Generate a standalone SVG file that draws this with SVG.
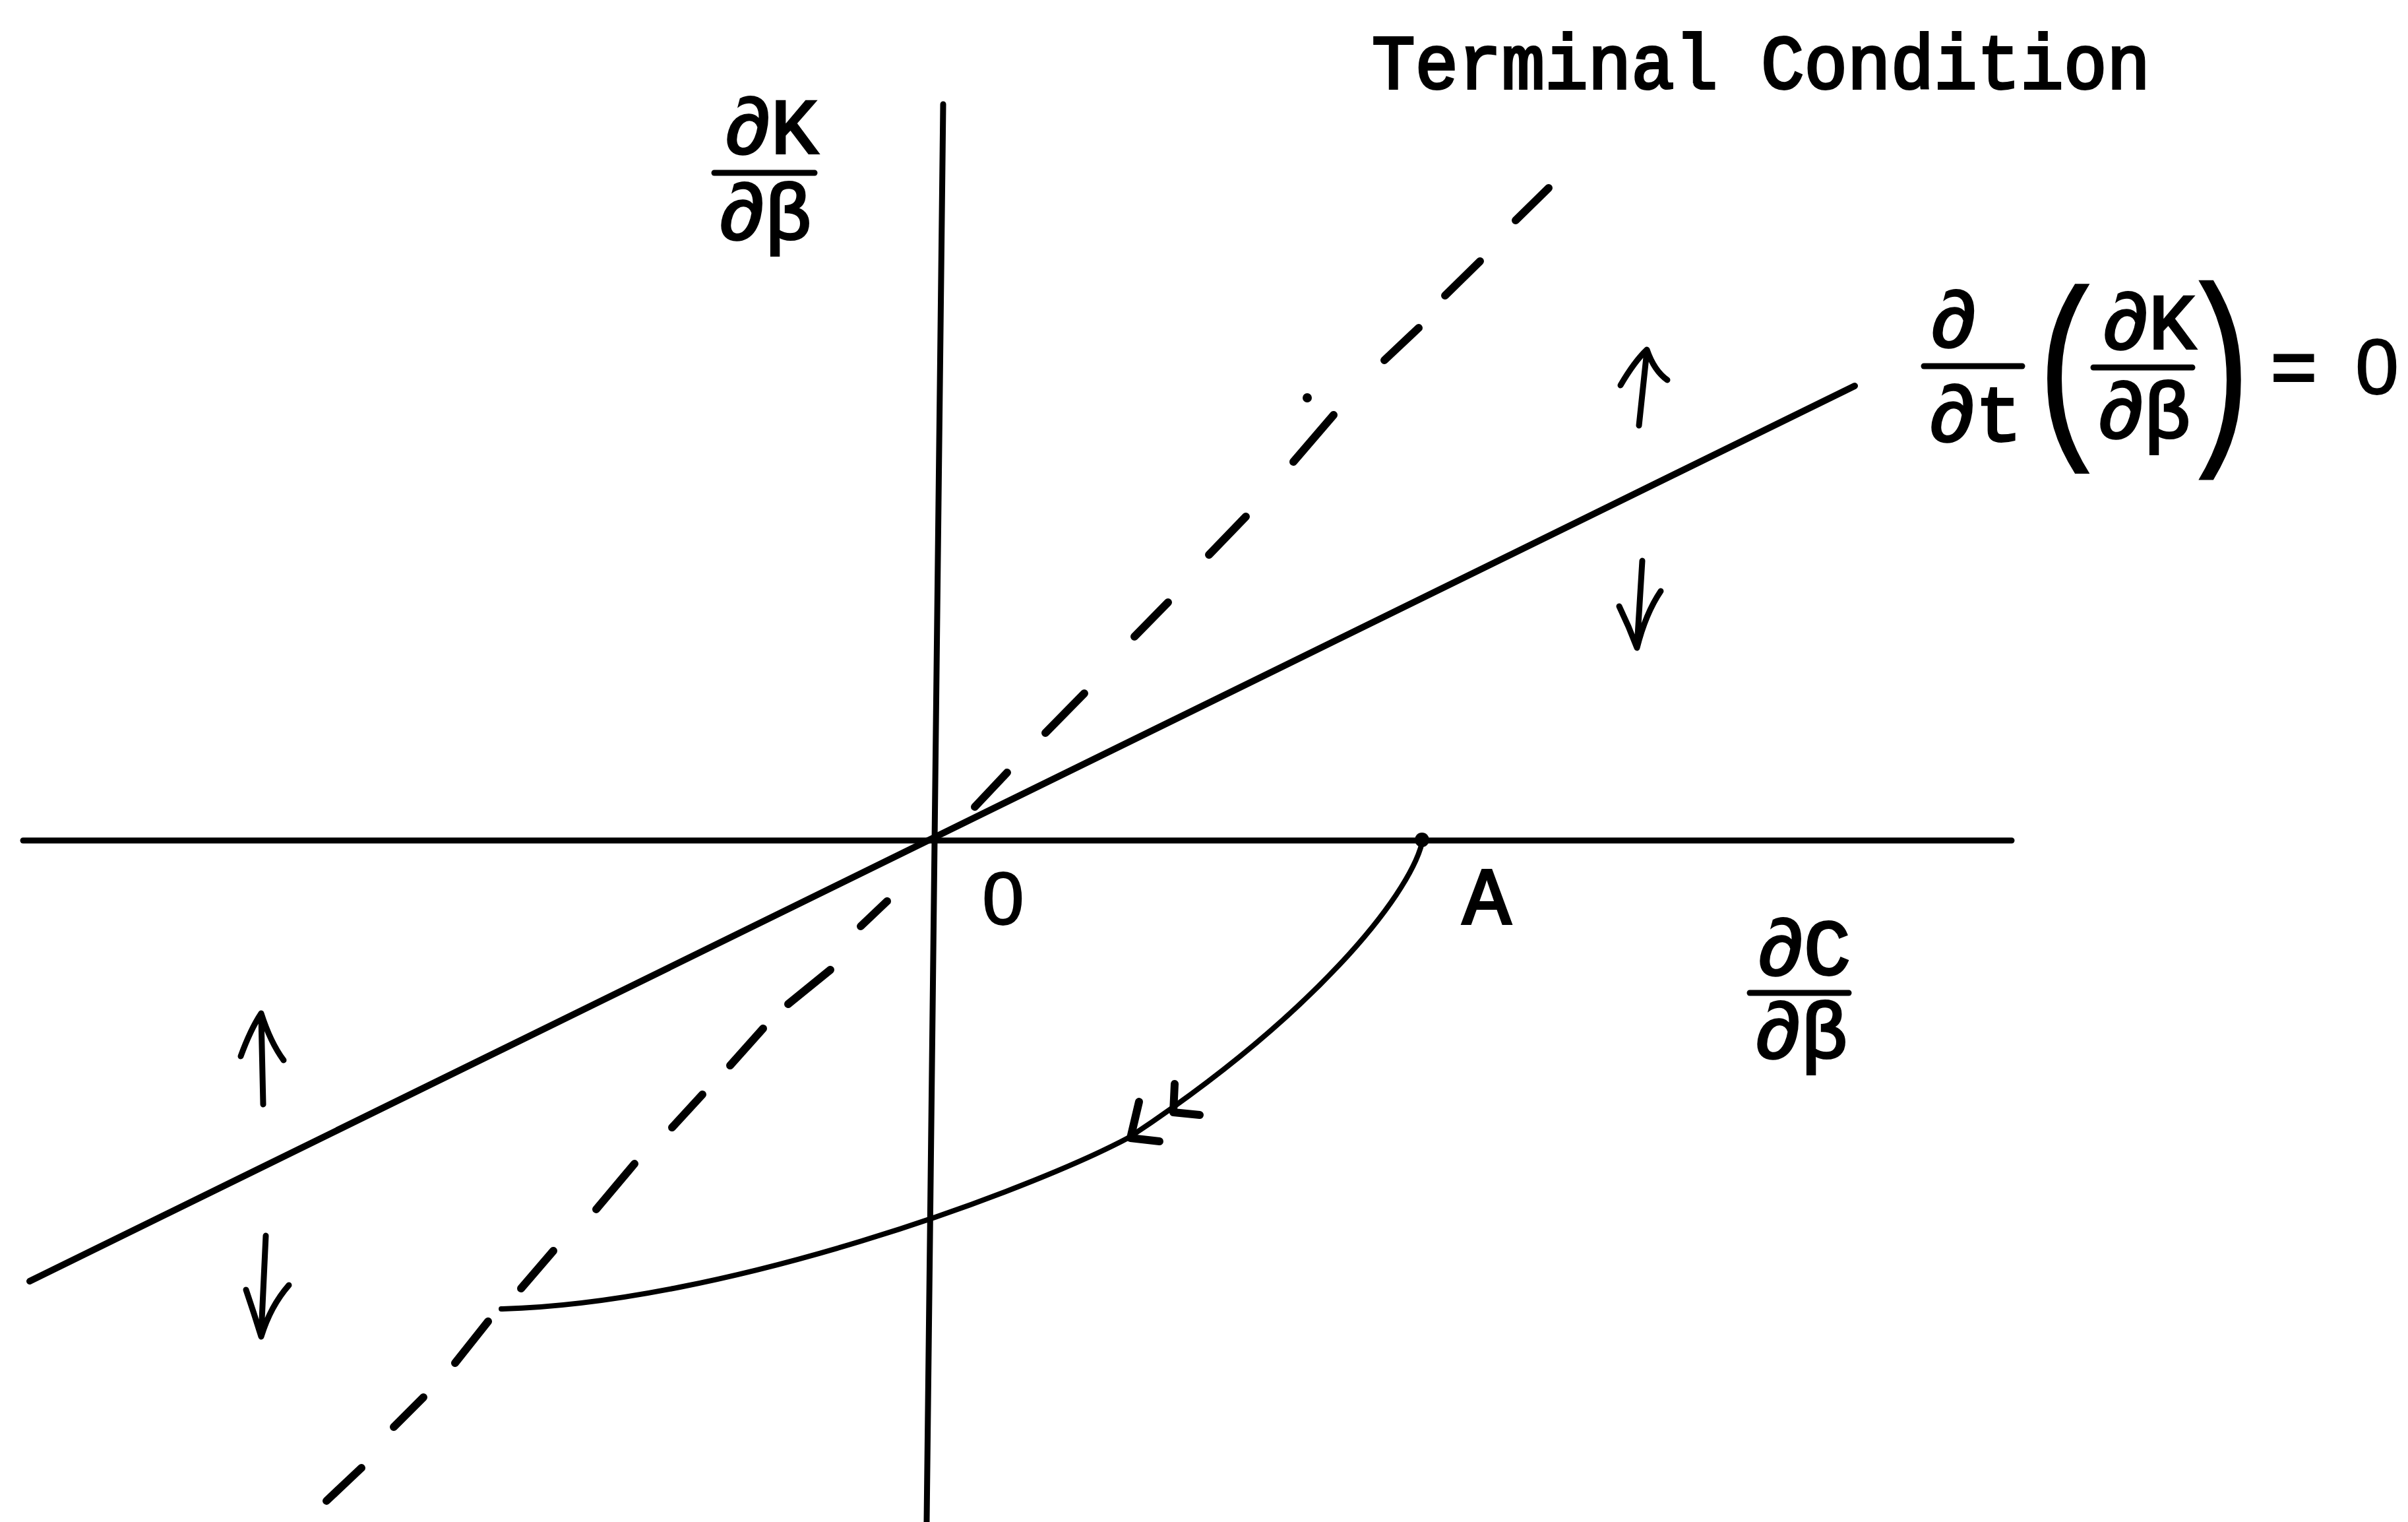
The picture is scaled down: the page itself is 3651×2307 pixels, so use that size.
<svg xmlns="http://www.w3.org/2000/svg" width="3651" height="2307" viewBox="0 0 3651 2307">
<style>
.ln{stroke:#000;fill:none;stroke-linecap:round;stroke-linejoin:round}
.ax{stroke-width:9}
.sol{stroke-width:10}
.dash{stroke-width:12}
.cv{stroke-width:8}
.arw{stroke-width:9}
.bar{stroke:#000;stroke-width:9;stroke-linecap:round}
.t{font-family:"Liberation Mono","DejaVu Sans Mono",monospace;fill:#000;stroke:#000;stroke-width:4;font-weight:normal}
.d{font-family:"Liberation Sans",Arial,sans-serif;fill:#000;stroke:#000;stroke-width:2;font-weight:normal}
.p{font-family:"Liberation Mono","DejaVu Sans Mono",monospace;fill:#000;font-weight:normal;font-size:160px}
.tc{text-anchor:middle}
</style>
<rect width="3651" height="2307" fill="#fff"/>
<g id="axes">
<line class="ln ax" x1="35" y1="1274" x2="3050" y2="1274"/>
<line class="ln ax" x1="1430" y1="158" x2="1405" y2="2307"/>
</g>
<g id="connectors">
<line id="locus" class="ln sol" x1="45" y1="1942" x2="2812" y2="585"/>
<g id="dashed" class="ln dash">
<line x1="2298" y1="334" x2="2348" y2="285"/>
<line x1="2191" y1="448" x2="2244" y2="396"/>
<line x1="2099" y1="546" x2="2151" y2="497"/>
<line x1="1961" y1="700" x2="2022" y2="629"/>
<line x1="1833" y1="841" x2="1889" y2="783"/>
<line x1="1720" y1="965" x2="1771" y2="913"/>
<line x1="1585" y1="1111" x2="1644" y2="1051"/>
<line x1="1478" y1="1223" x2="1527" y2="1171"/>
<line x1="1305" y1="1404" x2="1345" y2="1366"/>
<line x1="1195" y1="1522" x2="1259" y2="1470"/>
<line x1="1107" y1="1615" x2="1157" y2="1559"/>
<line x1="1019" y1="1709" x2="1065" y2="1659"/>
<line x1="904" y1="1833" x2="962" y2="1764"/>
<line x1="790" y1="1953" x2="839" y2="1896"/>
<line x1="690" y1="2066" x2="740" y2="2003"/>
<line x1="597" y1="2163" x2="642" y2="2118"/>
<line x1="495" y1="2275" x2="548" y2="2225"/>
</g>
<circle cx="1982" cy="603" r="7" fill="#000"/>
<path id="path" class="ln cv" d="M2156 1278 C2135 1360 1990 1540 1712 1724 C1560 1805 1100 1975 760 1984"/>
<path class="ln arw" style="stroke-width:12" d="M1781 1643 L1779 1686 L1819 1690"/>
<path class="ln arw" style="stroke-width:12" d="M1727 1670 L1714 1725 L1758 1730"/>
<circle cx="2156" cy="1273" r="11" fill="#000"/>
<g id="direction-arrows" class="ln arw">
<path d="M2485 645 L2497 532 M2457 584 Q2478 548 2497 530 Q2508 562 2528 576"/>
<path d="M2490 850 L2482 980 M2455 919 Q2470 950 2482 982 Q2495 930 2518 896"/>
<path d="M399 1674 L396 1540 M365 1601 Q380 1560 396 1536 Q410 1580 430 1607"/>
<path d="M403 1873 L396 2022 M373 1955 Q385 1990 396 2026 Q410 1980 438 1948"/>
</g>
</g>
<g id="label-title"><text class="t" x="2080" y="134" font-size="116" textLength="1180" lengthAdjust="spacingAndGlyphs">Terminal Condition</text></g>
<g id="label-y">
<text class="t tc" x="1169" y="232" font-size="118">∂K</text>
<line class="bar" x1="1083" y1="262" x2="1235" y2="262"/>
<text class="t tc" x="1160" y="362" font-size="118">∂β</text>
</g>
<g id="label-x">
<text class="t tc" x="2735" y="1477" font-size="118">∂C</text>
<line class="bar" x1="2653" y1="1505" x2="2803" y2="1505"/>
<text class="t tc" x="2731" y="1603" font-size="118">∂β</text>
</g>
<g id="label-origin"><text class="d tc" x="1521" y="1401" font-size="114">0</text></g>
<g id="label-A"><text class="t tc" x="2254" y="1400" font-size="122">A</text></g>
<g id="label-equation">
<text class="t tc" x="2962" y="525" font-size="118">∂</text>
<line class="bar" x1="2917" y1="555" x2="3066" y2="555"/>
<text class="t tc" x="2995" y="668" font-size="118">∂t</text>
<text class="p tc" transform="translate(3136,654) scale(1.5,1.93)">(</text>
<text class="t tc" x="3258" y="528" font-size="118">∂K</text>
<line class="bar" x1="3174" y1="557" x2="3324" y2="557"/>
<text class="t tc" x="3251" y="663" font-size="118">∂β</text>
<text class="p tc" transform="translate(3366,660) scale(1.5,2.03)">)</text>
<text class="t tc" x="3478" y="597" font-size="118">=</text>
<text class="d tc" x="3604" y="597" font-size="118">0</text>
</g>
</svg>
